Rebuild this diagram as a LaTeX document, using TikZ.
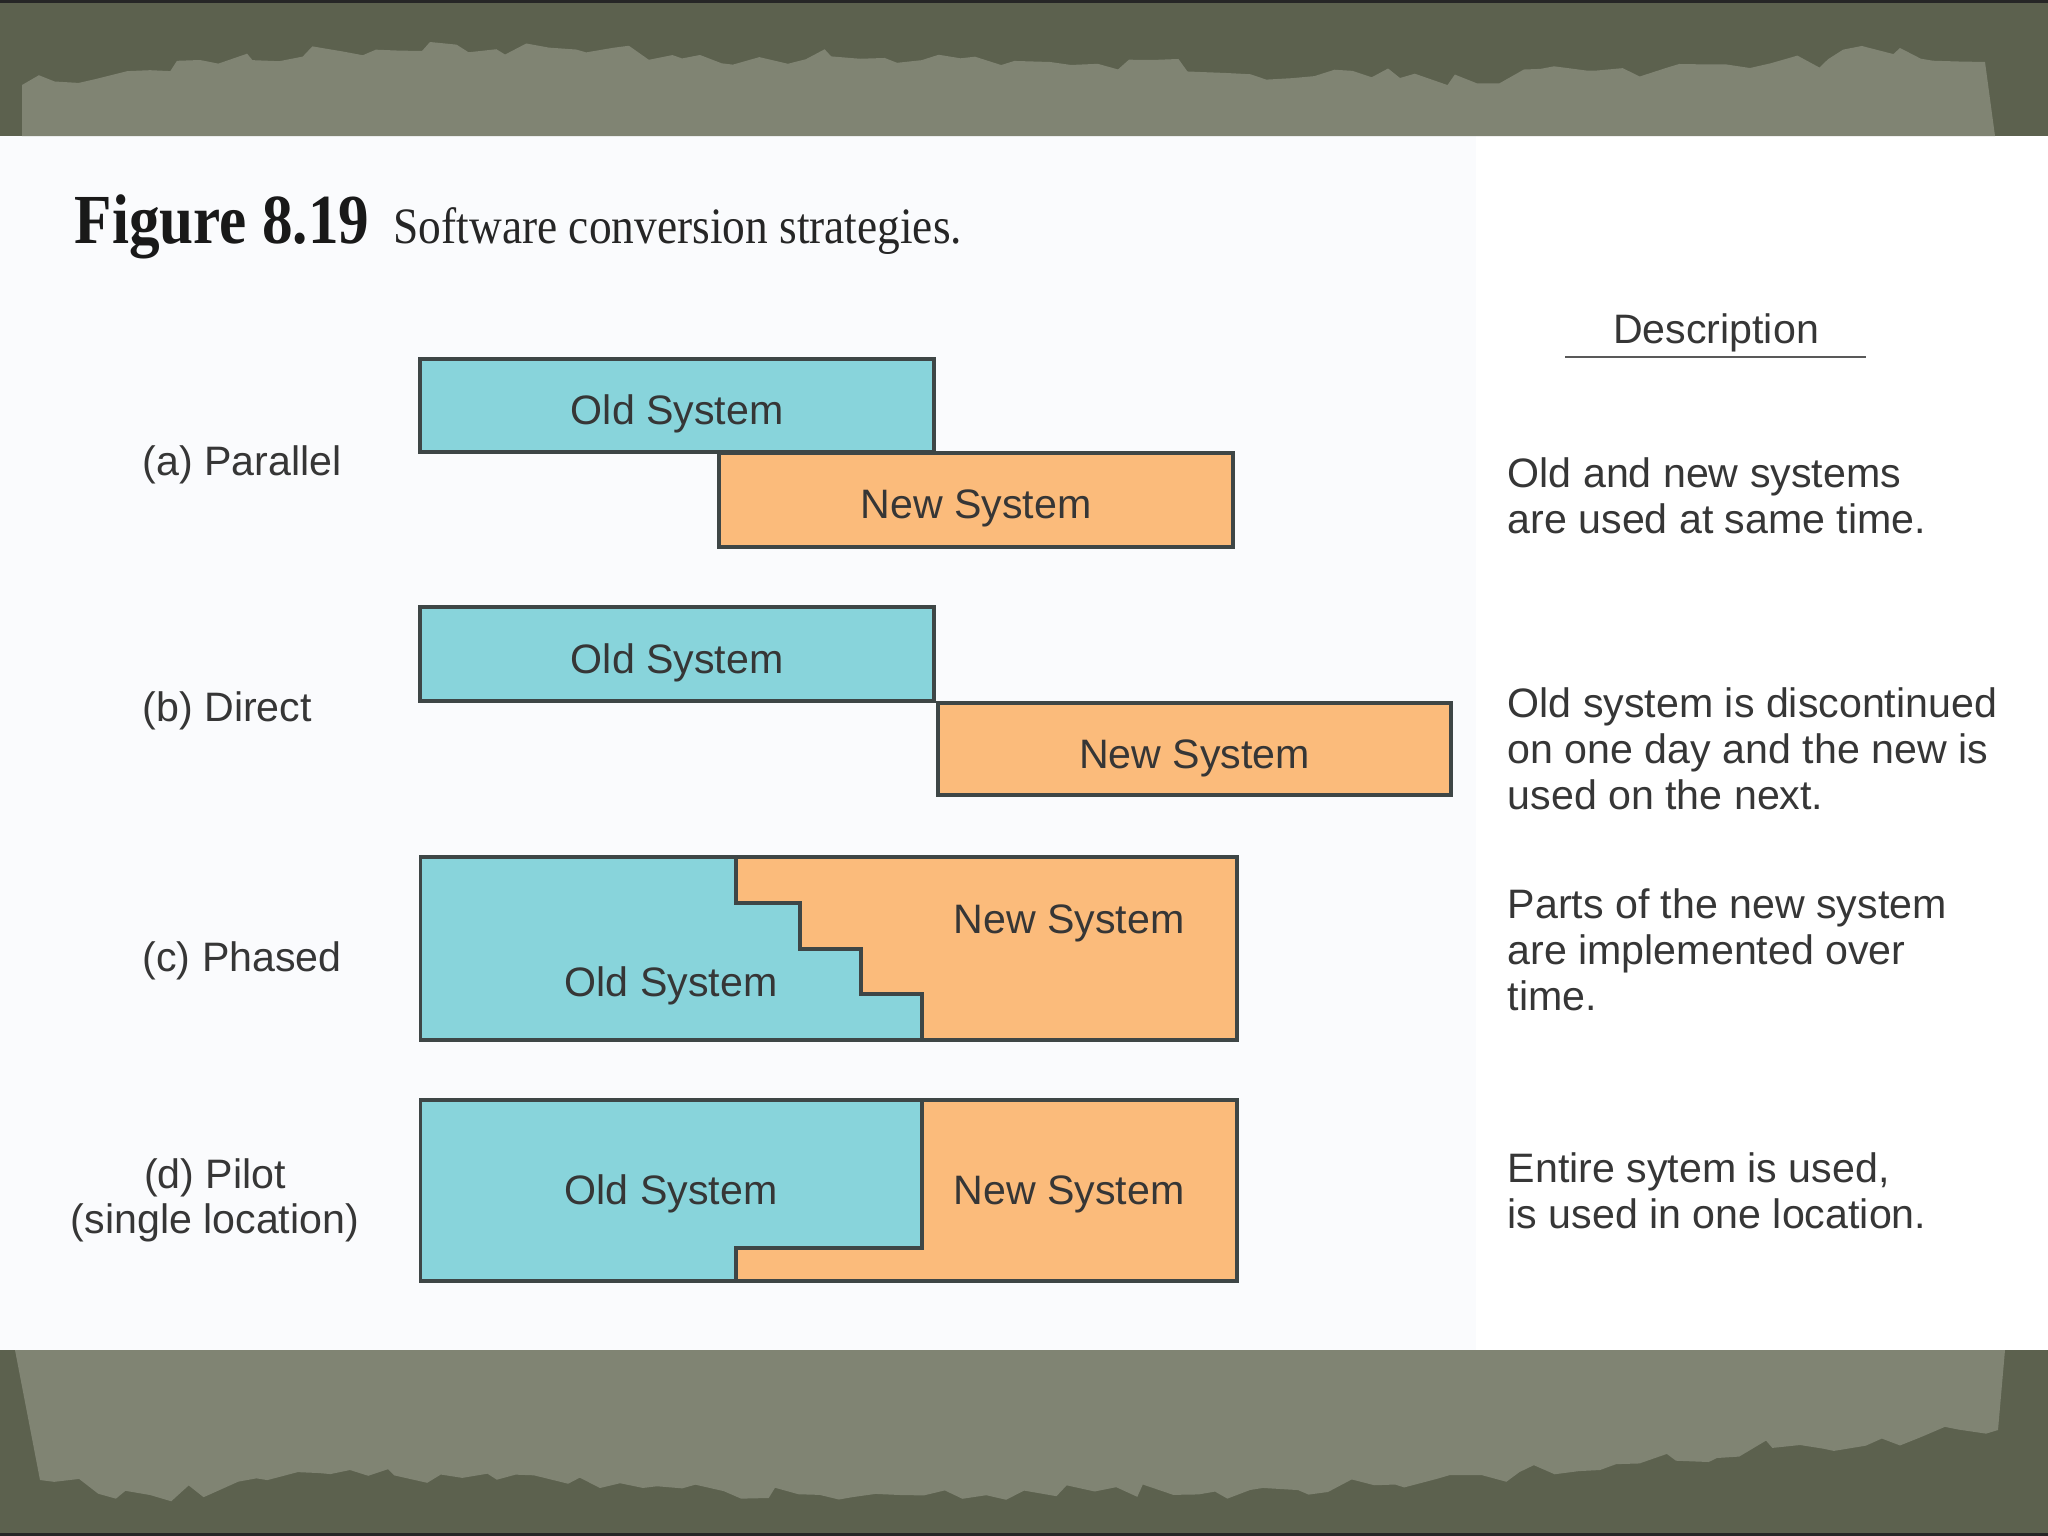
\documentclass[tikz,border=0pt]{standalone}
\usepackage{fontspec}
\setmainfont{Liberation Serif}
\setsansfont{Liberation Sans}
\usetikzlibrary{positioning, decorations.pathmorphing}
\definecolor{oldcol}{HTML}{88D4DB}
\definecolor{newcol}{HTML}{FBBB7B}
\definecolor{edgecol}{HTML}{3E4646}
\definecolor{txtcol}{HTML}{363636}
\definecolor{banddark}{RGB}{92,97,78}
\definecolor{bandpaper}{RGB}{128,132,115}
\definecolor{pagecol}{RGB}{250,251,253}
\tikzset{
  edge/.style={draw=edgecol, line width=1.1pt},
  sysbox/.style={edge, minimum height=0.93cm, inner sep=0pt,
    font=\sffamily\fontsize{11.7}{13}\selectfont, text=txtcol,
    text height=10.8pt, text depth=0pt},
  oldbox/.style={sysbox, fill=oldcol},
  newbox/.style={sysbox, fill=newcol},
  lbl/.style={font=\sffamily\fontsize{11.7}{13.1}\selectfont, text=txtcol, inner sep=0pt},
  desc/.style={lbl, align=left, anchor=north west},
  rag/.style={decorate, decoration={random steps, segment length=0.2cm, amplitude=0.09cm}}
}

\begin{document}
\begin{tikzpicture}[x=0.01cm, y=-0.01cm]
  \pgfmathsetseed{4}
  \useasboundingbox (0,0) rectangle (2048,1536);
  \fill[pagecol] (0,0) rectangle (2048,1536);
  \fill[white] (1476,136) rectangle (2048,1350);

  % torn paper bands
  \fill[banddark] (0,0) rectangle (2048,136);
  \fill[black!85] (0,0) rectangle (2048,3);
  \fill[bandpaper] (22,136) -- (22,85) decorate[rag]{ -- (200,60) -- (430,42) -- (700,55)
      -- (1050,62) -- (1400,78) -- (1750,68) -- (1900,48) -- (1985,62)} -- (1995,136) -- cycle;
  \fill[banddark] (0,1350) rectangle (2048,1536);
  \fill[black!85] (0,1533) rectangle (2048,1536);
  \fill[bandpaper] (15,1350) -- (2005,1350) -- (1998,1430) decorate[rag]{ -- (1800,1445)
      -- (1600,1470) -- (1450,1475) -- (1250,1490) -- (900,1495) -- (600,1488)
      -- (350,1470) -- (150,1495) -- (40,1480)} -- cycle;

  \node[anchor=base west, inner sep=0, text=black!90,
        font=\bfseries\fontsize{20}{24}\selectfont] (figno) at (74,243)
        {\scalebox{0.87}[1]{Figure 8.19}};
  \node[anchor=base west, inner sep=0, text=black!85,
        font=\fontsize{14.5}{17}\selectfont] (figcap) at (393,243)
        {\scalebox{0.89}[1]{Software conversion strategies.}};

  \node[lbl, anchor=base] (deschead) at (1716,343) {Description};
  \coordinate (ulA) at (1565,357);
  \coordinate (ulB) at (1866,357);
  \draw[black!65, line width=0.7pt] (ulA) -- (ulB);

  % (a) parallel
  \node[lbl, anchor=base west] (labA) at (142,475) {(a) Parallel};
  \node[oldbox, minimum width=5.135cm] (aOld) at (677.25,405.5) {Old System};
  \node[newbox, minimum width=5.14cm, minimum height=0.94cm] (aNew) at (976,500) {New System};
  \node[desc] (descA) at (1507,457) {Old and new systems\\are used at same time.};

  % (b) direct
  \node[lbl, anchor=base west] (labB) at (142,721) {(b) Direct};
  \node[oldbox, minimum width=5.135cm, minimum height=0.94cm] (bOld) at (677.25,654) {Old System};
  \node[newbox, minimum width=5.13cm, minimum height=0.92cm] (bNew) at (1194.5,749) {New System};
  \node[desc] (descB) at (1507,687) {Old system is discontinued\\on one day and the new is\\used on the next.};

  % (c) phased
  \node[lbl, anchor=base west] (labC) at (142,971) {(c) Phased};
  \coordinate (cTL) at (420.5,857);
  \coordinate (cBR) at (1237,1040);
  \fill[newcol] (cTL) rectangle (cBR);
  \fill[oldcol] (cTL) -| (736,903) -| (800,949) -| (861,994) -| (922,1040) -- (420.5,1040) -- cycle;
  \draw[edge] (736,857) |- (800,903) |- (861,949) |- (922,994) -- (922,1040);
  \draw[edge] (cTL) rectangle (cBR);
  \node[lbl, anchor=base] (cNew) at (1069,933) {New System};
  \node[lbl, anchor=base] (cOld) at (671,996) {Old System};
  \node[desc] (descC) at (1507,888) {Parts of the new system\\are implemented over\\time.};

  % (d) pilot
  \node[lbl, anchor=base] (labD) at (215,1188) {(d) Pilot};
  \node[lbl, anchor=base] (labDsub) at (215,1233) {(single location)};
  \coordinate (dTL) at (420.5,1100);
  \coordinate (dBR) at (1237,1281);
  \fill[newcol] (dTL) rectangle (dBR);
  \fill[oldcol] (dTL) -| (922,1248) -| (736,1281) -- (420.5,1281) -- cycle;
  \draw[edge] (922,1100) |- (736,1248) -- (736,1281);
  \draw[edge] (dTL) rectangle (dBR);
  \node[lbl, anchor=base] (dOld) at (671,1204) {Old System};
  \node[lbl, anchor=base] (dNew) at (1069,1204) {New System};
  \node[desc] (descD) at (1507,1152) {Entire sytem is used,\\is used in one location.};
\end{tikzpicture}
\end{document}
